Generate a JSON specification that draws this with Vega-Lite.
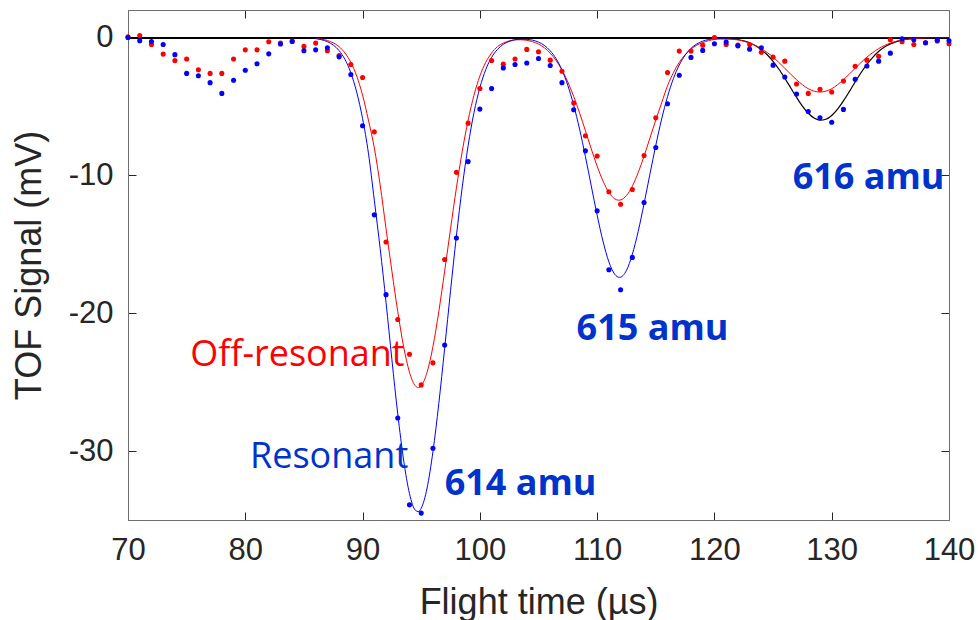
{
  "$schema": "https://vega.github.io/schema/vega-lite/v6.json",
  "width": 821,
  "height": 510,
  "autosize": {"type": "none"},
  "padding": {"left": 128, "top": 10, "right": 29, "bottom": 100},
  "background": "white",
  "config": {
    "view": {"stroke": null},
    "axis": {
      "grid": false,
      "domainColor": "#6e6e6e",
      "domainWidth": 1,
      "tickColor": "#262626",
      "tickSize": -8,
      "tickWidth": 1,
      "labelFont": "Liberation Sans",
      "labelFontSize": 31,
      "labelColor": "#262626",
      "titleFont": "Liberation Sans",
      "titleFontSize": 36,
      "titleFontWeight": "normal",
      "titleColor": "#262626"
    }
  },
  "resolve": {"axis": {"x": "independent", "y": "independent"}},
  "datasets": {
    "points": [
      {"t": 70, "v": 0.05, "series": "off"}, {"t": 71, "v": 0.15, "series": "off"}, {"t": 72, "v": -0.5, "series": "off"}, {"t": 73, "v": -1.2, "series": "off"}, {"t": 74, "v": -1.67, "series": "off"}, {"t": 75, "v": -1.55, "series": "off"}, {"t": 76, "v": -2.33, "series": "off"}, {"t": 77, "v": -2.6, "series": "off"}, {"t": 78, "v": -2.6, "series": "off"}, {"t": 79, "v": -1.55, "series": "off"}, {"t": 80, "v": -0.89, "series": "off"}, {"t": 81, "v": -0.89, "series": "off"}, {"t": 82, "v": -0.3, "series": "off"}, {"t": 83, "v": -0.4, "series": "off"}, {"t": 84, "v": -0.25, "series": "off"}, {"t": 85, "v": -0.64, "series": "off"}, {"t": 86, "v": -0.4, "series": "off"}, {"t": 87, "v": -0.96, "series": "off"}, {"t": 88, "v": -1.3, "series": "off"}, {"t": 89, "v": -1.95, "series": "off"},
      {"t": 90, "v": -2.9, "series": "off"}, {"t": 91, "v": -6.84, "series": "off"}, {"t": 92, "v": -14.83, "series": "off"}, {"t": 93, "v": -20.45, "series": "off"}, {"t": 94, "v": -22.97, "series": "off"}, {"t": 95, "v": -25.2, "series": "off"}, {"t": 96, "v": -23.6, "series": "off"}, {"t": 97, "v": -16.1, "series": "off"}, {"t": 98, "v": -9.78, "series": "off"}, {"t": 99, "v": -6.21, "series": "off"},
      {"t": 100, "v": -3.7, "series": "off"}, {"t": 101, "v": -1.66, "series": "off"}, {"t": 102, "v": -1.93, "series": "off"}, {"t": 103, "v": -1.55, "series": "off"}, {"t": 104, "v": -0.86, "series": "off"}, {"t": 105, "v": -1.03, "series": "off"}, {"t": 106, "v": -1.64, "series": "off"}, {"t": 107, "v": -2.44, "series": "off"}, {"t": 108, "v": -4.75, "series": "off"}, {"t": 109, "v": -7.13, "series": "off"},
      {"t": 110, "v": -8.59, "series": "off"}, {"t": 111, "v": -11.19, "series": "off"}, {"t": 112, "v": -12.09, "series": "off"}, {"t": 113, "v": -11.02, "series": "off"}, {"t": 114, "v": -8.56, "series": "off"}, {"t": 115, "v": -5.82, "series": "off"}, {"t": 116, "v": -2.53, "series": "off"}, {"t": 117, "v": -0.98, "series": "off"}, {"t": 118, "v": -0.98, "series": "off"}, {"t": 119, "v": -0.55, "series": "off"},
      {"t": 120, "v": 0.0, "series": "off"}, {"t": 121, "v": -0.5, "series": "off"}, {"t": 122, "v": -0.55, "series": "off"}, {"t": 123, "v": -0.5, "series": "off"}, {"t": 124, "v": -1.06, "series": "off"}, {"t": 125, "v": -1.42, "series": "off"}, {"t": 126, "v": -1.71, "series": "off"}, {"t": 127, "v": -3.37, "series": "off"}, {"t": 128, "v": -4.05, "series": "off"}, {"t": 129, "v": -3.75, "series": "off"},
      {"t": 130, "v": -3.95, "series": "off"}, {"t": 131, "v": -3.15, "series": "off"}, {"t": 132, "v": -2.08, "series": "off"}, {"t": 133, "v": -1.64, "series": "off"}, {"t": 134, "v": -1.35, "series": "off"}, {"t": 135, "v": -0.16, "series": "off"}, {"t": 136, "v": -0.3, "series": "off"}, {"t": 137, "v": -0.5, "series": "off"}, {"t": 138, "v": -0.38, "series": "off"}, {"t": 139, "v": -0.25, "series": "off"}, {"t": 140, "v": -0.45, "series": "off"},
      {"t": 70, "v": 0.0, "series": "res"}, {"t": 71, "v": -0.23, "series": "res"}, {"t": 72, "v": -0.28, "series": "res"}, {"t": 73, "v": -0.5, "series": "res"}, {"t": 74, "v": -1.24, "series": "res"}, {"t": 75, "v": -2.6, "series": "res"}, {"t": 76, "v": -2.77, "series": "res"}, {"t": 77, "v": -3.27, "series": "res"}, {"t": 78, "v": -4.05, "series": "res"}, {"t": 79, "v": -3.1, "series": "res"},
      {"t": 80, "v": -2.37, "series": "res"}, {"t": 81, "v": -1.9, "series": "res"}, {"t": 82, "v": -1.18, "series": "res"}, {"t": 83, "v": -0.47, "series": "res"}, {"t": 84, "v": -0.28, "series": "res"}, {"t": 85, "v": -0.96, "series": "res"}, {"t": 86, "v": -0.89, "series": "res"}, {"t": 87, "v": -0.74, "series": "res"}, {"t": 88, "v": -1.4, "series": "res"}, {"t": 89, "v": -2.68, "series": "res"},
      {"t": 90, "v": -6.4, "series": "res"}, {"t": 91, "v": -12.86, "series": "res"}, {"t": 92, "v": -18.65, "series": "res"}, {"t": 93, "v": -27.6, "series": "res"}, {"t": 94, "v": -33.9, "series": "res"}, {"t": 95, "v": -34.5, "series": "res"}, {"t": 96, "v": -29.8, "series": "res"}, {"t": 97, "v": -22.3, "series": "res"}, {"t": 98, "v": -14.54, "series": "res"}, {"t": 99, "v": -9.0, "series": "res"},
      {"t": 100, "v": -5.19, "series": "res"}, {"t": 101, "v": -3.7, "series": "res"}, {"t": 102, "v": -2.2, "series": "res"}, {"t": 103, "v": -1.95, "series": "res"}, {"t": 104, "v": -1.84, "series": "res"}, {"t": 105, "v": -1.52, "series": "res"}, {"t": 106, "v": -2.03, "series": "res"}, {"t": 107, "v": -3.27, "series": "res"}, {"t": 108, "v": -5.24, "series": "res"}, {"t": 109, "v": -8.22, "series": "res"},
      {"t": 110, "v": -12.57, "series": "res"}, {"t": 111, "v": -16.85, "series": "res"}, {"t": 112, "v": -18.3, "series": "res"}, {"t": 113, "v": -15.95, "series": "res"}, {"t": 114, "v": -11.97, "series": "res"}, {"t": 115, "v": -7.98, "series": "res"}, {"t": 116, "v": -4.8, "series": "res"}, {"t": 117, "v": -2.73, "series": "res"}, {"t": 118, "v": -1.44, "series": "res"}, {"t": 119, "v": -0.93, "series": "res"},
      {"t": 120, "v": -0.45, "series": "res"}, {"t": 121, "v": -0.33, "series": "res"}, {"t": 122, "v": -0.6, "series": "res"}, {"t": 123, "v": -0.84, "series": "res"}, {"t": 124, "v": -0.74, "series": "res"}, {"t": 125, "v": -2.0, "series": "res"}, {"t": 126, "v": -2.86, "series": "res"}, {"t": 127, "v": -4.1, "series": "res"}, {"t": 128, "v": -5.36, "series": "res"}, {"t": 129, "v": -5.82, "series": "res"},
      {"t": 130, "v": -6.14, "series": "res"}, {"t": 131, "v": -5.21, "series": "res"}, {"t": 132, "v": -3.03, "series": "res"}, {"t": 133, "v": -2.06, "series": "res"}, {"t": 134, "v": -1.71, "series": "res"}, {"t": 135, "v": -1.13, "series": "res"}, {"t": 136, "v": -0.09, "series": "res"}, {"t": 137, "v": -0.16, "series": "res"}, {"t": 138, "v": -0.38, "series": "res"}, {"t": 139, "v": -0.2, "series": "res"}, {"t": 140, "v": -0.23, "series": "res"}
    ],
    "curves": [
      {"t": 86, "v": -0.08, "fit": "res"}, {"t": 87, "v": -0.3, "fit": "res"}, {"t": 87.5, "v": -0.54, "fit": "res"}, {"t": 88, "v": -0.95, "fit": "res"}, {"t": 88.5, "v": -1.59, "fit": "res"}, {"t": 89, "v": -2.56, "fit": "res"}, {"t": 89.5, "v": -3.96, "fit": "res"}, {"t": 90, "v": -5.87, "fit": "res"}, {"t": 90.5, "v": -8.39, "fit": "res"}, {"t": 91, "v": -11.8, "fit": "res"}, {"t": 91.5, "v": -15.3, "fit": "res"}, {"t": 92, "v": -19.2, "fit": "res"}, {"t": 92.5, "v": -23.36, "fit": "res"}, {"t": 93, "v": -27.31, "fit": "res"}, {"t": 93.5, "v": -30.65, "fit": "res"}, {"t": 94, "v": -33.09, "fit": "res"}, {"t": 94.5, "v": -34.29, "fit": "res"}, {"t": 94.75, "v": -34.39, "fit": "res"}, {"t": 95, "v": -34.15, "fit": "res"}, {"t": 95.5, "v": -32.68, "fit": "res"}, {"t": 96, "v": -30.04, "fit": "res"}, {"t": 96.5, "v": -26.55, "fit": "res"}, {"t": 97, "v": -22.53, "fit": "res"}, {"t": 97.5, "v": -18.37, "fit": "res"}, {"t": 98, "v": -14.4, "fit": "res"}, {"t": 98.5, "v": -10.84, "fit": "res"}, {"t": 99, "v": -7.84, "fit": "res"}, {"t": 99.5, "v": -5.44, "fit": "res"}, {"t": 100, "v": -3.64, "fit": "res"}, {"t": 100.5, "v": -2.33, "fit": "res"}, {"t": 101, "v": -1.44, "fit": "res"}, {"t": 101.5, "v": -0.86, "fit": "res"}, {"t": 102, "v": -0.49, "fit": "res"}, {"t": 102.5, "v": -0.28, "fit": "res"}, {"t": 103, "v": -0.16, "fit": "res"}, {"t": 103.5, "v": -0.12, "fit": "res"}, {"t": 104, "v": -0.13, "fit": "res"}, {"t": 104.5, "v": -0.19, "fit": "res"}, {"t": 105, "v": -0.33, "fit": "res"}, {"t": 105.5, "v": -0.57, "fit": "res"}, {"t": 106, "v": -0.96, "fit": "res"}, {"t": 106.5, "v": -1.53, "fit": "res"}, {"t": 107, "v": -2.35, "fit": "res"}, {"t": 107.5, "v": -3.47, "fit": "res"}, {"t": 108, "v": -4.9, "fit": "res"}, {"t": 108.5, "v": -6.64, "fit": "res"}, {"t": 109, "v": -8.63, "fit": "res"}, {"t": 109.5, "v": -10.77, "fit": "res"}, {"t": 110, "v": -12.88, "fit": "res"}, {"t": 110.5, "v": -14.78, "fit": "res"}, {"t": 111, "v": -16.27, "fit": "res"}, {"t": 111.5, "v": -17.17, "fit": "res"}, {"t": 111.9, "v": -17.4, "fit": "res"}, {"t": 112.5, "v": -16.89, "fit": "res"}, {"t": 113, "v": -15.73, "fit": "res"}, {"t": 113.5, "v": -14.06, "fit": "res"}, {"t": 114, "v": -12.05, "fit": "res"}, {"t": 114.5, "v": -9.91, "fit": "res"}, {"t": 115, "v": -7.82, "fit": "res"}, {"t": 115.5, "v": -5.91, "fit": "res"}, {"t": 116, "v": -4.29, "fit": "res"}, {"t": 116.5, "v": -2.98, "fit": "res"}, {"t": 117, "v": -1.99, "fit": "res"}, {"t": 117.5, "v": -1.28, "fit": "res"}, {"t": 118, "v": -0.78, "fit": "res"}, {"t": 118.5, "v": -0.46, "fit": "res"}, {"t": 119, "v": -0.26, "fit": "res"}, {"t": 119.5, "v": -0.14, "fit": "res"}, {"t": 120, "v": -0.07, "fit": "res"}, {"t": 121, "v": -0.02, "fit": "res"}, {"t": 122, "v": 0, "fit": "res"}, {"t": 140, "v": 0, "fit": "res"},
      {"t": 86, "v": -0.06, "fit": "off"}, {"t": 87, "v": -0.21, "fit": "off"}, {"t": 87.5, "v": -0.38, "fit": "off"}, {"t": 88, "v": -0.66, "fit": "off"}, {"t": 88.5, "v": -1.12, "fit": "off"}, {"t": 89, "v": -1.8, "fit": "off"}, {"t": 89.5, "v": -2.79, "fit": "off"}, {"t": 90, "v": -4.18, "fit": "off"}, {"t": 90.5, "v": -5.99, "fit": "off"}, {"t": 91, "v": -8.0, "fit": "off"}, {"t": 91.5, "v": -10.7, "fit": "off"}, {"t": 92, "v": -13.87, "fit": "off"}, {"t": 92.5, "v": -16.94, "fit": "off"}, {"t": 93, "v": -19.88, "fit": "off"}, {"t": 93.5, "v": -22.42, "fit": "off"}, {"t": 94, "v": -24.28, "fit": "off"}, {"t": 94.5, "v": -25.27, "fit": "off"}, {"t": 94.75, "v": -25.4, "fit": "off"}, {"t": 95, "v": -25.27, "fit": "off"}, {"t": 95.5, "v": -24.28, "fit": "off"}, {"t": 96, "v": -22.42, "fit": "off"}, {"t": 96.5, "v": -19.88, "fit": "off"}, {"t": 97, "v": -16.94, "fit": "off"}, {"t": 97.5, "v": -13.87, "fit": "off"}, {"t": 98, "v": -10.91, "fit": "off"}, {"t": 98.5, "v": -8.25, "fit": "off"}, {"t": 99, "v": -5.99, "fit": "off"}, {"t": 99.5, "v": -4.18, "fit": "off"}, {"t": 100, "v": -2.79, "fit": "off"}, {"t": 100.5, "v": -1.8, "fit": "off"}, {"t": 101, "v": -1.12, "fit": "off"}, {"t": 101.5, "v": -0.66, "fit": "off"}, {"t": 102, "v": -0.4, "fit": "off"}, {"t": 102.5, "v": -0.24, "fit": "off"}, {"t": 103, "v": -0.16, "fit": "off"}, {"t": 103.5, "v": -0.16, "fit": "off"}, {"t": 104, "v": -0.2, "fit": "off"}, {"t": 104.5, "v": -0.3, "fit": "off"}, {"t": 105, "v": -0.47, "fit": "off"}, {"t": 105.5, "v": -0.74, "fit": "off"}, {"t": 106, "v": -1.13, "fit": "off"}, {"t": 106.5, "v": -1.66, "fit": "off"}, {"t": 107, "v": -2.35, "fit": "off"}, {"t": 107.5, "v": -3.22, "fit": "off"}, {"t": 108, "v": -4.27, "fit": "off"}, {"t": 108.5, "v": -5.46, "fit": "off"}, {"t": 109, "v": -6.76, "fit": "off"}, {"t": 109.5, "v": -8.08, "fit": "off"}, {"t": 110, "v": -9.33, "fit": "off"}, {"t": 110.5, "v": -10.41, "fit": "off"}, {"t": 111, "v": -11.23, "fit": "off"}, {"t": 111.5, "v": -11.7, "fit": "off"}, {"t": 111.85, "v": -11.8, "fit": "off"}, {"t": 112, "v": -11.78, "fit": "off"}, {"t": 112.5, "v": -11.46, "fit": "off"}, {"t": 113, "v": -10.78, "fit": "off"}, {"t": 113.5, "v": -9.79, "fit": "off"}, {"t": 114, "v": -8.6, "fit": "off"}, {"t": 114.5, "v": -7.29, "fit": "off"}, {"t": 115, "v": -5.98, "fit": "off"}, {"t": 115.5, "v": -4.73, "fit": "off"}, {"t": 116, "v": -3.5, "fit": "off"}, {"t": 116.5, "v": -2.55, "fit": "off"}, {"t": 117, "v": -1.8, "fit": "off"}, {"t": 117.5, "v": -1.25, "fit": "off"}, {"t": 118, "v": -0.84, "fit": "off"}, {"t": 118.5, "v": -0.55, "fit": "off"}, {"t": 119, "v": -0.36, "fit": "off"}, {"t": 119.5, "v": -0.22, "fit": "off"}, {"t": 120, "v": -0.14, "fit": "off"}, {"t": 120.5, "v": -0.11, "fit": "off"}, {"t": 121, "v": -0.11, "fit": "off"}, {"t": 122, "v": -0.17, "fit": "off"}, {"t": 123, "v": -0.4, "fit": "off"}, {"t": 124, "v": -0.8, "fit": "off"}, {"t": 124.5, "v": -1.09, "fit": "off"}, {"t": 125, "v": -1.42, "fit": "off"}, {"t": 125.5, "v": -1.81, "fit": "off"}, {"t": 126, "v": -2.23, "fit": "off"}, {"t": 126.5, "v": -2.65, "fit": "off"}, {"t": 127, "v": -3.06, "fit": "off"}, {"t": 127.5, "v": -3.42, "fit": "off"}, {"t": 128, "v": -3.71, "fit": "off"}, {"t": 128.5, "v": -3.89, "fit": "off"}, {"t": 129, "v": -3.95, "fit": "off"}, {"t": 129.5, "v": -3.89, "fit": "off"}, {"t": 130, "v": -3.71, "fit": "off"}, {"t": 130.5, "v": -3.42, "fit": "off"}, {"t": 131, "v": -3.06, "fit": "off"}, {"t": 131.5, "v": -2.65, "fit": "off"}, {"t": 132, "v": -2.23, "fit": "off"}, {"t": 132.5, "v": -1.81, "fit": "off"}, {"t": 133, "v": -1.42, "fit": "off"}, {"t": 133.5, "v": -1.09, "fit": "off"}, {"t": 134, "v": -0.8, "fit": "off"}, {"t": 135, "v": -0.4, "fit": "off"}, {"t": 136, "v": -0.17, "fit": "off"}, {"t": 137, "v": -0.07, "fit": "off"}, {"t": 138, "v": -0.02, "fit": "off"}, {"t": 139, "v": 0, "fit": "off"}, {"t": 140, "v": 0, "fit": "off"},
      {"t": 118, "v": 0, "fit": "616"}, {"t": 120, "v": -0.01, "fit": "616"}, {"t": 121, "v": -0.05, "fit": "616"}, {"t": 122, "v": -0.14, "fit": "616"}, {"t": 122.5, "v": -0.24, "fit": "616"}, {"t": 123, "v": -0.38, "fit": "616"}, {"t": 123.5, "v": -0.59, "fit": "616"}, {"t": 124, "v": -0.88, "fit": "616"}, {"t": 124.5, "v": -1.25, "fit": "616"}, {"t": 125, "v": -1.73, "fit": "616"}, {"t": 125.5, "v": -2.3, "fit": "616"}, {"t": 126, "v": -2.95, "fit": "616"}, {"t": 126.5, "v": -3.64, "fit": "616"}, {"t": 127, "v": -4.33, "fit": "616"}, {"t": 127.5, "v": -4.97, "fit": "616"}, {"t": 128, "v": -5.49, "fit": "616"}, {"t": 128.5, "v": -5.84, "fit": "616"}, {"t": 129, "v": -6.0, "fit": "616"}, {"t": 129.5, "v": -5.93, "fit": "616"}, {"t": 130, "v": -5.65, "fit": "616"}, {"t": 130.5, "v": -5.19, "fit": "616"}, {"t": 131, "v": -4.59, "fit": "616"}, {"t": 131.5, "v": -3.92, "fit": "616"}, {"t": 132, "v": -3.22, "fit": "616"}, {"t": 132.5, "v": -2.55, "fit": "616"}, {"t": 133, "v": -1.95, "fit": "616"}, {"t": 133.5, "v": -1.43, "fit": "616"}, {"t": 134, "v": -1.01, "fit": "616"}, {"t": 134.5, "v": -0.69, "fit": "616"}, {"t": 135, "v": -0.46, "fit": "616"}, {"t": 136, "v": -0.18, "fit": "616"}, {"t": 137, "v": -0.06, "fit": "616"}, {"t": 138, "v": -0.02, "fit": "616"}, {"t": 139, "v": 0, "fit": "616"}, {"t": 140, "v": 0, "fit": "616"}
    ],
    "labels": [
      {"t": 75.3, "v": -23.85, "label": "Off-resonant", "kind": "off"},
      {"t": 80.4, "v": -31.2, "label": "Resonant", "kind": "res"},
      {"t": 97.0, "v": -33.2, "label": "614 amu", "kind": "mass"},
      {"t": 108.25, "v": -21.95, "label": "615 amu", "kind": "mass"},
      {"t": 126.67, "v": -10.95, "label": "616 amu", "kind": "mass"}
    ]
  },
  "layer": [
    {
      "data": {"name": "curves"},
      "mark": {"type": "rule", "color": "#000000", "strokeWidth": 1},
      "encoding": {
        "y": {"datum": 0, "type": "quantitative", "scale": {"domain": [-35, 2], "nice": false, "zero": false}, "axis": null}
      }
    },
    {
      "data": {"name": "curves"},
      "transform": [{"filter": "datum.fit == '616'"}],
      "mark": {"type": "line", "color": "#000000", "strokeWidth": 1.2, "interpolate": "monotone"},
      "encoding": {
        "x": {"field": "t", "type": "quantitative", "scale": {"domain": [70, 140], "nice": false, "zero": false}, "axis": null},
        "y": {"field": "v", "type": "quantitative", "scale": {"domain": [-35, 2], "nice": false, "zero": false}, "axis": null}
      }
    },
    {
      "data": {"name": "curves"},
      "transform": [{"filter": "datum.fit == 'off'"}],
      "mark": {"type": "line", "color": "#ff0000", "strokeWidth": 1, "interpolate": "monotone"},
      "encoding": {
        "x": {"field": "t", "type": "quantitative", "scale": {"domain": [70, 140], "nice": false, "zero": false}, "axis": null},
        "y": {"field": "v", "type": "quantitative", "scale": {"domain": [-35, 2], "nice": false, "zero": false}, "axis": null}
      }
    },
    {
      "data": {"name": "curves"},
      "transform": [{"filter": "datum.fit == 'res'"}],
      "mark": {"type": "line", "color": "#0000ff", "strokeWidth": 1, "interpolate": "monotone"},
      "encoding": {
        "x": {"field": "t", "type": "quantitative", "scale": {"domain": [70, 140], "nice": false, "zero": false}, "axis": null},
        "y": {"field": "v", "type": "quantitative", "scale": {"domain": [-35, 2], "nice": false, "zero": false}, "axis": null}
      }
    },
    {
      "data": {"name": "points"},
      "transform": [{"filter": "datum.series == 'off'"}],
      "mark": {"type": "circle", "color": "#ff0000", "size": 26, "opacity": 1},
      "encoding": {
        "x": {"field": "t", "type": "quantitative", "scale": {"domain": [70, 140], "nice": false, "zero": false},
              "axis": {"orient": "top", "labels": false, "title": null, "values": [70, 80, 90, 100, 110, 120, 130, 140]}},
        "y": {"field": "v", "type": "quantitative", "scale": {"domain": [-35, 2], "nice": false, "zero": false},
              "axis": {"orient": "right", "labels": false, "title": null, "values": [0, -10, -20, -30]}}
      }
    },
    {
      "data": {"name": "points"},
      "transform": [{"filter": "datum.series == 'res'"}],
      "mark": {"type": "circle", "color": "#0000ff", "size": 26, "opacity": 1},
      "encoding": {
        "x": {"field": "t", "type": "quantitative", "scale": {"domain": [70, 140], "nice": false, "zero": false},
              "axis": {"orient": "bottom", "title": "Flight time (µs)", "values": [70, 80, 90, 100, 110, 120, 130, 140], "labelPadding": 23, "titlePadding": 20, "labelFlush": false}},
        "y": {"field": "v", "type": "quantitative", "scale": {"domain": [-35, 2], "nice": false, "zero": false},
              "axis": {"orient": "left", "title": "TOF Signal (mV)", "values": [0, -10, -20, -30], "labelExpr": "'' + datum.value", "labelPadding": 23, "titlePadding": 20}}
      }
    },
    {
      "data": {"name": "labels"},
      "transform": [{"filter": "datum.kind == 'off'"}],
      "mark": {"type": "text", "align": "left", "baseline": "alphabetic", "font": "Open Sans", "fontSize": 36, "color": "#ff0000"},
      "encoding": {
        "x": {"field": "t", "type": "quantitative", "scale": {"domain": [70, 140], "nice": false, "zero": false}, "axis": null},
        "y": {"field": "v", "type": "quantitative", "scale": {"domain": [-35, 2], "nice": false, "zero": false}, "axis": null},
        "text": {"field": "label"}
      }
    },
    {
      "data": {"name": "labels"},
      "transform": [{"filter": "datum.kind == 'res'"}],
      "mark": {"type": "text", "align": "left", "baseline": "alphabetic", "font": "Open Sans", "fontSize": 36, "color": "#0033cc"},
      "encoding": {
        "x": {"field": "t", "type": "quantitative", "scale": {"domain": [70, 140], "nice": false, "zero": false}, "axis": null},
        "y": {"field": "v", "type": "quantitative", "scale": {"domain": [-35, 2], "nice": false, "zero": false}, "axis": null},
        "text": {"field": "label"}
      }
    },
    {
      "data": {"name": "labels"},
      "transform": [{"filter": "datum.kind == 'mass'"}],
      "mark": {"type": "text", "align": "left", "baseline": "alphabetic", "font": "Open Sans", "fontSize": 36, "fontWeight": "bold", "color": "#0033cc"},
      "encoding": {
        "x": {"field": "t", "type": "quantitative", "scale": {"domain": [70, 140], "nice": false, "zero": false}, "axis": null},
        "y": {"field": "v", "type": "quantitative", "scale": {"domain": [-35, 2], "nice": false, "zero": false}, "axis": null},
        "text": {"field": "label"}
      }
    }
  ]
}
